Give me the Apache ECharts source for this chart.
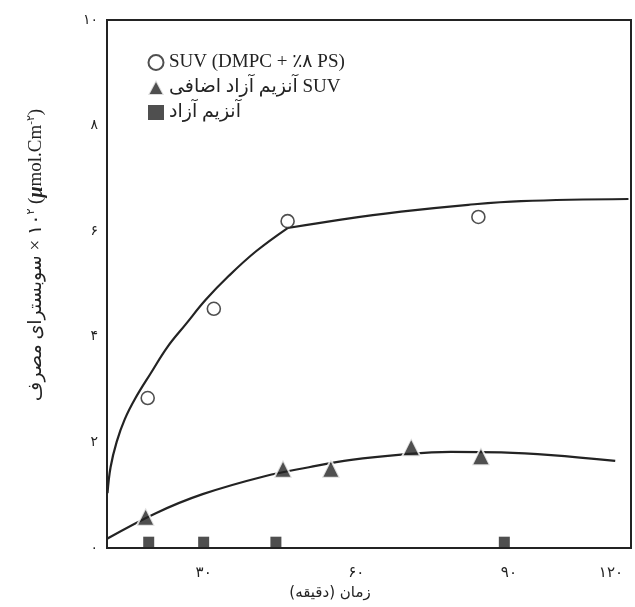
<!DOCTYPE html>
<html>
<head>
<meta charset="utf-8">
<script src="https://cdn.jsdelivr.net/npm/echarts@6/dist/echarts.min.js"></script>
<style>
html,body{margin:0;padding:0;background:#fff;}
#c{width:635px;height:607px;}
</style>
</head>
<body>
<div id="c"></div>
<script>
// ---- data (time in minutes, value ×10^2 µmol/cm²) ----
const xTickValues = [30, 60, 90];
const yTickValues = [0, 2, 4, 6, 8, 10];
const lastXTickLabel = '۱۲۰';

const circleTime = [19, 32, 46.5, 84];
const circleValue = [2.84, 4.53, 6.19, 6.27];

const triangleTime = [18.6, 45.6, 55.0, 70.8, 84.5];
const triangleValue = [0.59, 1.50, 1.50, 1.91, 1.74];

const squareTime = [19.2, 30.0, 44.2, 89.1];
const squareValue = [0.11, 0.11, 0.11, 0.11];

// fitted curves
const suvRiseTime = [11.1, 11.7, 12.9, 14.5, 16.6, 19.6, 22.9, 26.5, 30.4, 34.9, 40.3, 46.5];
const suvRiseValue = [1.04, 1.53, 2.01, 2.44, 2.84, 3.31, 3.81, 4.24, 4.70, 5.15, 5.62, 6.06];
const suvFlatTime = [46.5, 57.0, 68.8, 82.0, 92.4, 113.5];
const suvFlatValue = [6.06, 6.22, 6.37, 6.50, 6.57, 6.61];
const triCurveTime = [11.1, 20.6, 29.8, 42.0, 50.7, 59.0, 68.8, 78.6, 88.5, 98.3, 110.9];
const triCurveValue = [0.18, 0.66, 1.02, 1.36, 1.53, 1.67, 1.77, 1.82, 1.81, 1.76, 1.65];

const seriesNames = ['SUV (DMPC + ٪۸ PS)', 'آنزیم آزاد اضافی SUV', 'آنزیم آزاد'];

// ---- helpers ----
const fa = v => String(v).replace(/\d/g, d => '۰۱۲۳۴۵۶۷۸۹'[+d]);
const zip = (a, b) => a.map((v, i) => [v, b[i]]);
const INK = '#232323';
const FONT = "'Liberation Serif', 'DejaVu Sans', serif";
const FA_FONT = "'DejaVu Sans', sans-serif";

const chart = echarts.init(document.getElementById('c'), null, {renderer: 'canvas'});
chart.setOption({
  backgroundColor: '#ffffff',
  animation: false,
  grid: {left: 107, right: 4, top: 20, bottom: 59, show: true, borderColor: INK, borderWidth: 2, backgroundColor: 'transparent'},
  xAxis: {
    type: 'value', min: 11, max: 114,
    axisLine: {show: false}, axisTick: {show: false}, splitLine: {show: false},
    axisLabel: {customValues: xTickValues, formatter: v => fa(v), color: INK, fontSize: 15, fontFamily: FA_FONT, margin: 18},
    name: 'زمان (دقیقه)\u200F', nameLocation: 'middle', nameGap: 33,
    nameTextStyle: {color: INK, fontSize: 15, fontFamily: FA_FONT, padding: [0, 78, 0, 0]}
  },
  yAxis: {
    type: 'value', min: 0, max: 10,
    axisLine: {show: false}, axisTick: {show: false}, splitLine: {show: false},
    axisLabel: {customValues: yTickValues, formatter: v => fa(v), color: INK, fontSize: 14, fontFamily: FA_FONT, margin: 9},
    name: '{a|سوبسترای مصرف\u200E × ۱۰}{s|۲}{a| (}{m|μ}{a|mol.Cm}{s|-۲}{a|)}',
    nameLocation: 'middle', nameRotate: 90, nameGap: 60,
    nameTextStyle: {
      padding: [0, 0, 0, 58],
      rich: {
        a: {fontSize: 19, fontFamily: FONT, color: INK},
        m: {fontSize: 20, fontFamily: FONT, fontStyle: 'italic', fontWeight: 'bold', color: INK},
        s: {fontSize: 11, fontFamily: FONT, color: INK, padding: [0, 0, 10, 0]}
      }
    }
  },
  legend: {
    orient: 'vertical', left: 142, top: 48, itemGap: 6, itemWidth: 16, itemHeight: 15,
    textStyle: {color: INK, fontSize: 19, fontFamily: FONT},
    data: seriesNames
  },
  graphic: [{
    type: 'text', right: 12, top: 566, silent: true,
    style: {text: lastXTickLabel, fill: INK, fontSize: 15, fontFamily: FA_FONT}
  }],
  series: [
    {type: 'line', data: zip(suvRiseTime, suvRiseValue), smooth: 0.4, showSymbol: false, lineStyle: {color: INK, width: 2.2}, z: 1, silent: true},
    {type: 'line', data: zip(suvFlatTime, suvFlatValue), smooth: 0.4, showSymbol: false, lineStyle: {color: INK, width: 2.2}, z: 1, silent: true},
    {type: 'line', data: zip(triCurveTime, triCurveValue), smooth: 0.4, showSymbol: false, lineStyle: {color: INK, width: 2.2}, z: 1, silent: true},
    {name: seriesNames[0], type: 'scatter', data: zip(circleTime, circleValue), symbol: 'circle', symbolSize: 13,
      itemStyle: {color: '#ffffff', borderColor: INK, borderWidth: 1.6}, z: 5},
    {name: seriesNames[1], type: 'scatter', data: zip(triangleTime, triangleValue), symbol: 'triangle', symbolSize: 18,
      itemStyle: {color: INK, borderColor: '#ffffff', borderWidth: 2}, z: 5},
    {name: seriesNames[2], type: 'scatter', data: zip(squareTime, squareValue), symbol: 'rect', symbolSize: 11,
      itemStyle: {color: INK}, z: 5}
  ]
});
</script>
</body>
</html>
